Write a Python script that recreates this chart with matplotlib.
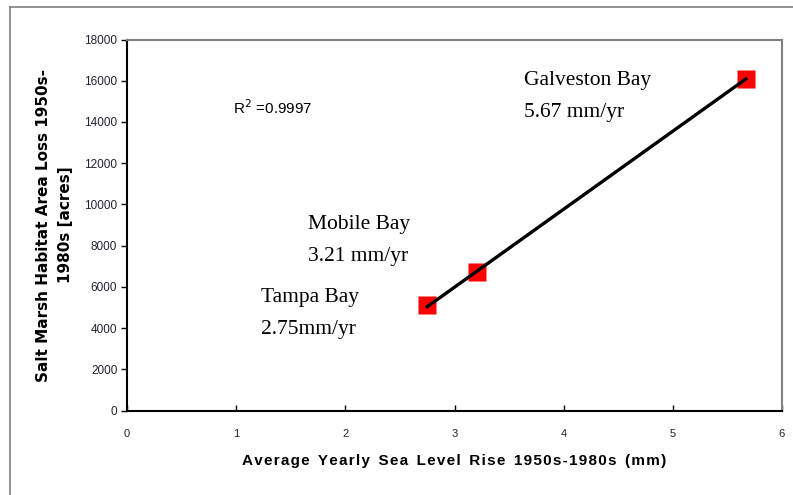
import numpy as np
import matplotlib
matplotlib.use("Agg")
import matplotlib.pyplot as plt
from matplotlib.lines import Line2D

# sea level rise (mm/yr) vs. salt marsh loss
bays = ["Tampa Bay", "Mobile Bay", "Galveston Bay"]
rise = [2.75, 3.21, 5.67]
loss = [5100, 6700, 16100]
bay_labels = ["Tampa Bay\n2.75mm/yr", "Mobile Bay\n3.21 mm/yr", "Galveston Bay\n5.67 mm/yr"]
label_pos = [(1.23, 5950), (1.66, 9500), (3.64, 16450)]
r2_text = "R$^2$ =0.9997"
x_title = "Average Yearly Sea Level Rise 1950s-1980s (mm)"
y_title = "Salt Marsh Habitat Area Loss 1950s-\n1980s [acres]"

fig = plt.figure(figsize=(7.93, 4.95), dpi=100)
ax = fig.add_axes([0.1602, 0.1707, 0.8259, 0.7495])

# outer chart frame
fig.add_artist(Line2D([0.0126, 0.0126], [0, 0.9859], color="#808080", lw=1.2,
                      transform=fig.transFigure))
fig.add_artist(Line2D([0.0126, 1.0], [0.9859, 0.9859], color="#808080", lw=1.2,
                      transform=fig.transFigure))

# trend line
coef = np.polyfit(rise, loss, 1)
xs = np.array([min(rise), max(rise)])
ax.plot(xs, np.polyval(coef, xs), color="black", lw=2.4, zorder=3)
ax.plot(rise, loss, "s", color="red", ms=13, mec="none", zorder=2)

for txt, (lx, ly) in zip(bay_labels, label_pos):
    ax.text(lx, ly, txt, fontsize=15.5, family="Liberation Serif", va="top",
            ha="left", linespacing=1.92)

ax.text(0.97, 14700, r2_text, fontsize=11, family="Liberation Sans", va="center")

ax.set_xlim(0, 6)
ax.set_ylim(0, 18000)
ax.set_xticks(range(0, 7))
ax.set_yticks(range(0, 18001, 2000))

for s in ["top", "right"]:
    ax.spines[s].set_color("#808080")
    ax.spines[s].set_linewidth(1.5)
for s in ["left", "bottom"]:
    ax.spines[s].set_color("black")
    ax.spines[s].set_linewidth(1.5)

ax.tick_params(axis="x", direction="in", length=4, width=1, labelsize=8, pad=13)
ax.tick_params(axis="y", direction="out", length=4, width=1, labelsize=8.5, pad=3)
for lab in ax.get_xticklabels() + ax.get_yticklabels():
    lab.set_family("Liberation Sans")
    lab.set_color("#222233")

# widen letter spacing like the original
spaced = "\u200a".join(x_title).replace("\u200a \u200a", "  ")
ax.set_xlabel(spaced, fontsize=11, fontweight="bold", family="Liberation Sans",
              labelpad=11)
ax.set_ylabel(y_title, fontsize=11, fontweight="bold", family="DejaVu Sans",
              labelpad=8, linespacing=1.6)

fig.savefig("out.png", dpi=100)
